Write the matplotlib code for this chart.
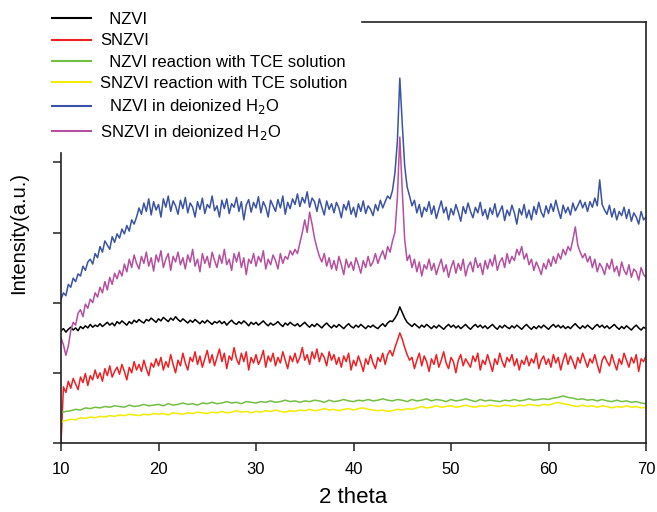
import numpy as np
import matplotlib
matplotlib.use('Agg')
import matplotlib.pyplot as plt

plt.rcParams['font.family'] = ['Liberation Sans', 'DejaVu Sans']

# 2 theta scan grids (fine for noisy patterns, coarse for the smooth ones)
theta_fine = np.arange(10, 70.001, 0.25)
theta_coarse = np.arange(10, 70.001, 0.5)

labels = ['  NZVI', 'SNZVI', '  NZVI reaction with TCE solution',
          'SNZVI reaction with TCE solution', '  NZVI in deionized H$_2$O',
          'SNZVI in deionized H$_2$O']
colors = ['#000000', '#ee2024', '#72bf44', '#f2ec00', '#3a53a4', '#b54f9f']

# intensities (arbitrary units, one axis tick = 100)
nzvi = [160, 163, 158, 162, 165, 161, 164, 160,
        166, 163, 167, 164, 169, 165, 168, 166,
        170, 166, 169, 172, 168, 171, 167, 173,
        170, 174, 171, 168, 173, 170, 175, 172,
        176, 173, 171, 176, 174, 178, 175, 172,
        177, 174, 179, 176, 173, 178, 175, 180,
        176, 173, 177, 174, 171, 175, 172, 176,
        173, 170, 174, 171, 175, 172, 169, 173,
        171, 174, 170, 173, 168, 172, 175, 171,
        169, 173, 170, 174, 171, 167, 172, 169,
        172, 168, 171, 174, 170, 167, 171, 168,
        170, 173, 169, 166, 171, 168, 172, 169,
        167, 170, 166, 169, 172, 168, 165, 169,
        166, 170, 167, 164, 168, 171, 167, 164,
        168, 165, 169, 166, 163, 167, 170, 166,
        164, 168, 165, 169, 166, 163, 167, 165,
        168, 165, 163, 167, 170, 166, 171, 174,
        173, 178, 184, 194, 186, 178, 172, 169,
        166, 170, 167, 164, 168, 165, 169, 166,
        163, 167, 164, 168, 165, 162, 166, 169,
        165, 168, 164, 167, 163, 166, 169, 165,
        162, 166, 169, 165, 168, 164, 167, 163,
        166, 169, 165, 162, 167, 164, 168, 165,
        163, 167, 164, 168, 165, 162, 166, 169,
        165, 162, 166, 163, 167, 164, 168, 165,
        162, 166, 169, 165, 168, 164, 167, 163,
        166, 163, 167, 170, 166, 163, 167, 164,
        168, 165, 162, 166, 169, 165, 168, 164,
        167, 163, 166, 169, 165, 162, 166, 163,
        167, 164, 161, 165, 168, 164, 161, 165,
        163]

snzvi = [0, 80, 72, 88, 78, 92, 84, 76,
         94, 86, 99, 82, 96, 90, 104, 92,
         100, 88, 106, 96, 110, 94, 102, 108,
         98, 112, 102, 90, 108, 100, 116, 104,
         112, 102, 118, 106, 96, 114, 108, 120,
         110, 122, 104, 116, 108, 126, 112, 100,
         118, 110, 128, 114, 104, 122, 116, 130,
         112, 124, 108, 120, 132, 114, 126, 110,
         122, 134, 116, 128, 106, 124, 118, 136,
         120, 112, 128, 116, 130, 104, 122, 114,
         126, 112, 120, 132, 108, 124, 116, 128,
         110, 122, 114, 130, 118, 106, 124, 116,
         128, 114, 122, 136, 118, 126, 112, 130,
         120, 134, 116, 128, 122, 110, 130, 118,
         126, 112, 122, 108, 124, 116, 128, 104,
         118, 110, 124, 114, 102, 120, 112, 126,
         114, 106, 122, 116, 128, 112, 126, 132,
         124, 136, 146, 157, 148, 136, 126, 118,
         122, 106, 118, 128, 110, 124, 116, 102,
         120, 112, 126, 108, 118, 130, 114, 106,
         122, 116, 100, 118, 126, 110, 120, 114,
         108, 124, 116, 128, 104, 118, 112, 126,
         114, 102, 120, 112, 128, 116, 108, 122,
         116, 126, 110, 120, 104, 118, 112, 124,
         110, 120, 114, 128, 106, 118, 124, 112,
         120, 108, 126, 114, 122, 104, 118, 128,
         112, 124, 116, 106, 122, 114, 128, 118,
         108, 120, 114, 126, 112, 100, 118, 124,
         116, 110, 126, 114, 104, 120, 112, 128,
         118, 108, 122, 114, 126, 102, 120, 116,
         124]

nzvi_tce = [43, 45, 46, 48, 47, 50, 49, 51, 50, 52,
            51, 53, 52, 51, 54, 52, 53, 55, 53, 54,
            55, 53, 56, 54, 55, 57, 55, 56, 54, 57,
            56, 58, 56, 57, 59, 57, 58, 56, 59, 58,
            57, 59, 58, 60, 58, 59, 61, 59, 60, 58,
            60, 59, 61, 60, 58, 61, 59, 60, 62, 60,
            59, 61, 60, 62, 60, 61, 63, 61, 60, 62,
            61, 59, 62, 60, 61, 63, 60, 62, 61, 59,
            62, 60, 61, 63, 61, 59, 62, 60, 61, 60,
            59, 61, 60, 62, 60, 61, 63, 61, 62, 63,
            62, 64, 65, 67, 65, 64, 62, 63, 61, 62,
            60, 62, 60, 59, 61, 59, 60, 58, 59, 57,
            56]

snzvi_tce = [30, 32, 34, 33, 36, 35, 37, 36, 38, 37,
             39, 38, 40, 39, 41, 40, 39, 41, 40, 42,
             41, 42, 40, 43, 42, 41, 43, 42, 44, 43,
             42, 44, 43, 45, 43, 44, 46, 44, 45, 43,
             45, 44, 46, 45, 47, 45, 44, 46, 45, 47,
             46, 48, 46, 47, 49, 47, 48, 46, 48, 49,
             47, 49, 50, 48, 47, 46, 47, 45, 46, 48,
             47, 49, 48, 50, 52, 50, 51, 53, 51, 52,
             53, 51, 52, 54, 52, 51, 53, 52, 54, 53,
             52, 54, 53, 52, 54, 53, 55, 54, 53, 55,
             54, 56, 58, 56, 55, 53, 52, 54, 52, 53,
             51, 53, 52, 50, 52, 51, 53, 51, 52, 50,
             51]

nzvi_h2o = [205, 214, 210, 226, 222, 235, 230, 241,
            238, 252, 246, 258, 262, 255, 270, 264,
            280, 272, 288, 282, 276, 294, 286, 298,
            292, 305, 298, 310, 302, 318, 312, 322,
            335, 326, 342, 330, 348, 325, 344, 332,
            340, 322, 348, 336, 352, 330, 345, 338,
            326, 346, 334, 350, 328, 342, 336, 322,
            344, 333, 349, 327, 340, 335, 352, 331,
            338, 322, 346, 334, 348, 327, 341, 336,
            350, 330, 344, 318, 339, 347, 329, 343,
            335, 351, 328, 344, 336, 322, 346, 338,
            330, 347, 335, 352, 326, 343, 334, 348,
            340, 355, 337, 350, 342, 358, 336, 349,
            344, 330, 348, 336, 325, 345, 333, 341,
            328, 343, 335, 321, 340, 332, 345, 326,
            336, 322, 341, 330, 345, 327, 338, 333,
            324, 340, 331, 346, 335, 344, 352, 348,
            360, 385, 430, 520, 455, 395, 365, 352,
            338, 346, 328, 340, 322, 336, 330, 344,
            326, 338, 320, 333, 345, 328, 336, 318,
            334, 325, 340, 329, 316, 337, 327, 342,
            330, 321, 336, 328, 343, 324, 333, 319,
            335, 326, 341, 322, 330, 338, 317, 332,
            324, 339, 328, 312, 334, 325, 340, 321,
            332, 318, 337, 326, 343, 329, 322, 338,
            327, 341, 330, 346, 332, 320, 339, 328,
            336, 325, 342, 331, 338, 346, 335, 343,
            330, 344, 336, 349, 338, 375, 340, 332,
            326, 339, 322, 334, 318, 330, 324, 336,
            320, 333, 316, 328, 322, 312, 330, 318,
            322]

snzvi_h2o = [150, 140, 125, 138, 160, 172, 168, 185,
             190, 180, 198, 192, 205, 200, 214, 208,
             222, 214, 230, 218, 236, 226, 242, 234,
             246, 238, 255, 244, 262, 250, 268, 256,
             248, 266, 256, 272, 252, 264, 245, 268,
             258, 274, 250, 262, 270, 246, 266, 258,
             272, 254, 264, 248, 268, 258, 276, 252,
             262, 244, 270, 256, 266, 250, 272, 260,
             250, 268, 256, 276, 254, 262, 246, 270,
             258, 272, 250, 264, 240, 262, 256, 270,
             252, 266, 258, 274, 248, 262, 254, 268,
             260, 248, 270, 256, 266, 262, 274, 268,
             276, 270, 285, 300, 318, 300, 329, 312,
             292, 278, 266, 258, 270, 252, 264, 248,
             260, 246, 266, 254, 240, 262, 250, 258,
             246, 264, 254, 242, 260, 250, 266, 252,
             258, 270, 256, 266, 274, 262, 280, 272,
             288, 300, 350, 436, 360, 290, 260, 268,
             250, 262, 244, 258, 238, 254, 248, 262,
             246, 256, 240, 252, 262, 244, 254, 236,
             250, 260, 242, 256, 246, 262, 238, 252,
             258, 244, 264, 250, 256, 240, 260, 248,
             262, 252, 268, 246, 258, 264, 250, 270,
             256, 266, 260, 276, 268, 280, 262, 270,
             254, 262, 246, 258, 250, 240, 256, 248,
             262, 252, 266, 256, 270, 262, 276, 268,
             280, 274, 290, 308, 282, 272, 264, 270,
             258, 266, 250, 262, 244, 256, 250, 240,
             256, 248, 262, 244, 252, 238, 258, 246,
             240, 254, 236, 248, 244, 232, 250, 240,
             236]

series = [(theta_fine, nzvi), (theta_fine, snzvi), (theta_coarse, nzvi_tce),
          (theta_coarse, snzvi_tce), (theta_fine, nzvi_h2o), (theta_fine, snzvi_h2o)]

fig = plt.figure(figsize=(6.57, 5.12), dpi=100)
ax = fig.add_axes([61 / 657, 69 / 512, 585 / 657, 421 / 512])

handles = []
for (xs, ys), lab, col in zip(series, labels, colors):
    h, = ax.plot(xs, ys, color=col, lw=1.1, label=lab)
    handles.append(h)

ax.set_xlim(10, 70)
ax.set_ylim(0, 600)
ax.set_xticks([10, 20, 30, 40, 50, 60, 70])
ax.set_yticks([0, 100, 200, 300, 400])
ax.set_yticklabels([])
ax.tick_params(direction='out', length=6, width=1.1, colors='#222222',
               labelsize=12, labelcolor='black')
ax.tick_params(axis='x', pad=8)

for sp in ax.spines.values():
    sp.set_linewidth(1.2)
    sp.set_color('#222222')
# legend sits over the upper-left corner of the frame
ax.spines['left'].set_bounds(0, 413)
ax.spines['top'].set_bounds(40.9, 70)

ax.set_xlabel('2 theta', fontsize=16, labelpad=7)
ax.set_ylabel('Intensity(a.u.)', fontsize=14.5, labelpad=14)

leg = ax.legend(handles=handles, loc='upper left', bbox_to_anchor=(52 / 657, 500 / 512),
                bbox_transform=fig.transFigure, frameon=False, fontsize=12,
                handlelength=2.35, handletextpad=0.55, labelspacing=0.38,
                borderpad=0, borderaxespad=0)
for line in leg.get_lines():
    line.set_linewidth(1.5)

fig.savefig('out.png', dpi=100)
